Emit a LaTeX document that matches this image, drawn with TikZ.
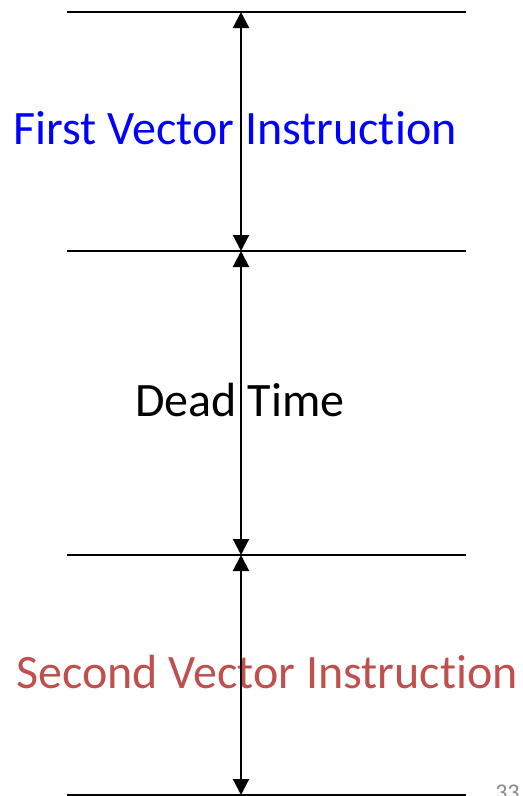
\documentclass[tikz,border=0pt]{standalone}
\usepackage{fontspec}
\setmainfont{Carlito}[Ligatures={NoCommon,NoContextual}]
\usetikzlibrary{arrows.meta}
\definecolor{firstblue}{RGB}{0,0,255}
\definecolor{secondred}{RGB}{192,80,77}
\definecolor{pagegray}{RGB}{137,137,137}

\begin{document}
\begin{tikzpicture}[x=0.75pt, y=-0.75pt, >={Triangle[width=12pt, length=12pt]},
    boundary/.style={line width=2.2pt},
    span/.style={<->, line width=1.6pt},
    phase/.style={font=\fontsize{36}{42}\selectfont}]
    \useasboundingbox (0,0) rectangle (523,796);
    % time marks on the arrow
    \coordinate (t0) at (241,12);
    \coordinate (t1) at (241,251);
    \coordinate (t2) at (241,555);
    \coordinate (t3) at (241,795);
    \draw[boundary] (67,12) -- (466,12);
    \draw[boundary] (67,251) -- (466,251);
    \draw[boundary] (67,555) -- (466,555);
    \draw[boundary] (67,795) -- (466,795);
    \node[phase, text=firstblue] (first) at (235,128) {First Vector Instruction};
    \node[phase] (dead) at (240,400) {Dead Time};
    \node[phase, text=secondred] (second) at (267,672) {Second Vector Instruction};
    \draw[span] (t0) -- (t1);
    \draw[span] (t1) -- (t2);
    \draw[span] (t2) -- (t3);
    \node[anchor=base west, inner sep=0pt, text=pagegray, font=\fontsize{18}{20}\selectfont] (page) at (495,800) {33};
\end{tikzpicture}
\end{document}
